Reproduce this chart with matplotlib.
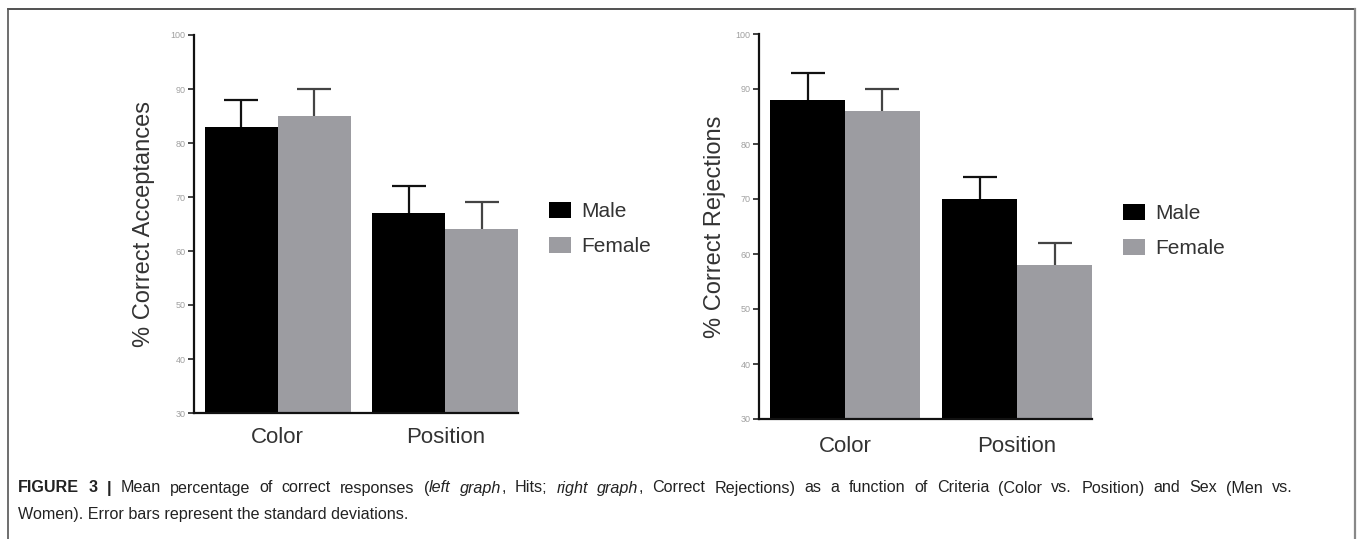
import matplotlib
matplotlib.use("Agg")
import matplotlib.pyplot as plt
from matplotlib.lines import Line2D
from matplotlib.patches import Patch

plt.rcParams['font.family'] = ['Liberation Sans', 'DejaVu Sans']

categories = ["Color", "Position"]
groups = ["Male", "Female"]
acc_male = [83, 67]
acc_female = [85, 64]
acc_male_sd = [5, 5]
acc_female_sd = [5, 5]
rej_male = [88, 70]
rej_female = [86, 58]
rej_male_sd = [5, 4]
rej_female_sd = [4, 4]
yticks = [30, 40, 50, 60, 70, 80, 90, 100]

W, H = 1358, 539
fig = plt.figure(figsize=(W / 100, H / 100), dpi=100)

male_color = "#000000"
female_color = "#9c9ca1"

def px(x0, y0, x1, y1):
    return [x0 / W, 1 - y1 / H, (x1 - x0) / W, (y1 - y0) / H]

def errs(ax, x, vals, sd, col):
    tops = [v + s for v, s in zip(vals, sd)]
    ax.errorbar(x, vals, yerr=[[0] * len(vals), sd], fmt='none', ecolor=col,
                elinewidth=1.6, capsize=0, zorder=1)
    ax.plot(x, tops, ls='none', marker='_', markersize=24, markeredgewidth=1.6,
            color=col, zorder=1)

def draw(ax, male, female, msd, fsd, ylabel, xlab_pad, lpad):
    centers = [0.0, 2.3]
    xm = [c for c in centers]
    xf = [c + 1.0 for c in centers]
    ax.bar(xm, male, width=1.0, color=male_color, zorder=2)
    ax.bar(xf, female, width=1.0, color=female_color, zorder=2)
    errs(ax, xm, male, msd, '#111111')
    errs(ax, xf, female, fsd, '#444444')
    ax.set_ylim(30, 100)
    ax.set_xlim(-0.65, 3.8)
    ax.set_yticks(yticks)
    ax.set_yticklabels([str(t) for t in yticks], fontsize=6.5, color='#a0a0a0')
    ax.set_xticks([c + 0.5 for c in centers])
    ax.set_xticklabels(categories, fontsize=16, color='#333333')
    ax.tick_params(axis='x', length=0, pad=xlab_pad)
    ax.tick_params(axis='y', length=4, width=1.2, color='#222222', pad=2)
    for s in ['top', 'right']:
        ax.spines[s].set_visible(False)
    for s in ['left', 'bottom']:
        ax.spines[s].set_linewidth(1.6)
        ax.spines[s].set_color('#111111')
    ax.set_ylabel(ylabel, fontsize=17, color='#333333', labelpad=lpad)

ax1 = fig.add_axes(px(194, 35, 518, 413))
draw(ax1, acc_male, acc_female, acc_male_sd, acc_female_sd, "% Correct Acceptances", 10, 11)
ax2 = fig.add_axes(px(759, 34, 1092, 419))
draw(ax2, rej_male, rej_female, rej_male_sd, rej_female_sd, "% Correct Rejections", 12, 7)

handles = [Patch(facecolor=male_color), Patch(facecolor=female_color)]
for (lx, ly) in [(549, 229), (1123, 231)]:
    fig.legend(handles, groups, loc='center left', bbox_to_anchor=(lx / W, 1 - ly / H),
               frameon=False, fontsize=15, handlelength=1.05, handleheight=0.82,
               handletextpad=0.5, labelspacing=0.75, borderpad=0, borderaxespad=0,
               labelcolor='#333333')

# frame around figure
fig.add_artist(Line2D([8 / W, 1355 / W], [1 - 9 / H, 1 - 9 / H], color='#333333', lw=1.2))
fig.add_artist(Line2D([8 / W, 8 / W], [1 - 9 / H, 0], color='#555555', lw=1.2))
fig.add_artist(Line2D([1355 / W, 1355 / W], [1 - 9 / H, 0], color='#888888', lw=1.6))

# caption (first line justified)
renderer = fig.canvas.get_renderer()
cap_fs = 11.6
pieces = [("FIGURE 3 |", 'bold', 'normal'),
          (" Mean percentage of correct responses (", 'normal', 'normal'),
          ("left graph", 'normal', 'italic'),
          (", Hits; ", 'normal', 'normal'),
          ("right graph", 'normal', 'italic'),
          (", Correct Rejections) as a function of Criteria (Color vs. Position) and Sex (Men vs.", 'normal', 'normal')]
tokens = []
pending = False
for txt, wt, st in pieces:
    parts = txt.split(' ')
    for i, p in enumerate(parts):
        if i > 0:
            pending = True
        if p == '':
            continue
        tokens.append((p, wt, st, pending))
        pending = False

y1 = 1 - 488 / H
texts = []
total = 0.0
for p, wt, st, sp in tokens:
    t = fig.text(0, y1, p, fontsize=cap_fs, fontweight=wt, fontstyle=st,
                 color='#222222', va='center', ha='left')
    w = t.get_window_extent(renderer=renderer).width
    texts.append((t, w, sp))
    total += w
ngaps = sum(1 for _, _, sp in texts if sp)
gap = (1293 - 18 - total) / ngaps
x = 18.0
for t, w, sp in texts:
    if sp:
        x += gap
    t.set_x(x / W)
    x += w

fig.text(18 / W, 1 - 514 / H, "Women). Error bars represent the standard deviations.",
         fontsize=cap_fs, color='#222222', va='center', ha='left')

fig.savefig("out.png", dpi=100)
